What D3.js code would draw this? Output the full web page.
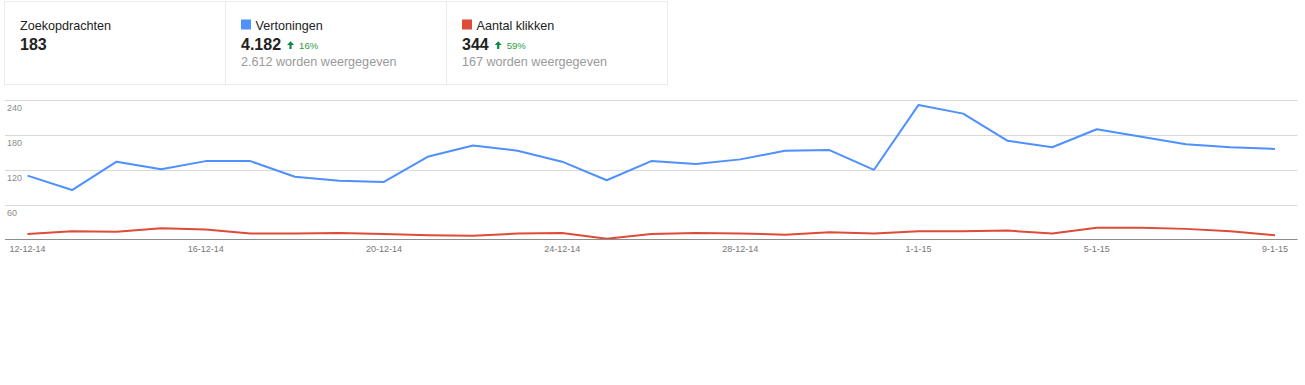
<!DOCTYPE html>
<html>
<head>
<meta charset="utf-8">
<script src="https://cdn.jsdelivr.net/npm/d3@7"></script>
<style>
  body { margin: 0; background: #fff; }
  svg text { font-family: Arial, "Liberation Sans", sans-serif; }
</style>
</head>
<body>
<div id="graph-container"></div>
<script>
const dates = [
  '2014-12-12', '2014-12-13', '2014-12-14', '2014-12-15', '2014-12-16', '2014-12-17',
  '2014-12-18', '2014-12-19', '2014-12-20', '2014-12-21', '2014-12-22', '2014-12-23',
  '2014-12-24', '2014-12-25', '2014-12-26', '2014-12-27', '2014-12-28', '2014-12-29',
  '2014-12-30', '2014-12-31', '2015-01-01', '2015-01-02', '2015-01-03', '2015-01-04',
  '2015-01-05', '2015-01-06', '2015-01-07', '2015-01-08', '2015-01-09'
];
const vertoningen = [
  110, 85, 134, 121, 135, 135, 108, 101, 99, 143, 162, 153, 134, 102, 135,
  130, 138, 153, 154, 120, 232, 217, 170, 159, 190, 177, 164, 159, 156
];
const klikken = [
  9, 14, 13, 19, 17, 10, 10, 11, 9, 7, 6, 10, 11, 1, 9,
  11, 10, 8, 12, 10, 14, 14, 15, 10, 20, 20, 18, 14, 7
];
const yTicks = [60, 120, 180, 240];
const xTickDates = ['2014-12-12', '2014-12-16', '2014-12-20', '2014-12-24', '2014-12-28', '2015-01-01', '2015-01-05', '2015-01-09'];
const xTickLabels = ['12-12-14', '16-12-14', '20-12-14', '24-12-14', '28-12-14', '1-1-15', '5-1-15', '9-1-15'];

const scorecards = [
  { title: 'Zoekopdrachten', value: '183', change: null, sub: null, color: null },
  { title: 'Vertoningen', value: '4.182', change: '16%', sub: '2.612 worden weergegeven', color: '#4d90fe' },
  { title: 'Aantal klikken', value: '344', change: '59%', sub: '167 worden weergegeven', color: '#dd4b39' }
];

const W = 1305, H = 385;
const parse = d3.utcParse('%Y-%m-%d');

const svg = d3.select('#graph-container')
              .append('svg')
              .attr('width', W)
              .attr('height', H);

// scorecards on top
const cardX = [4, 225, 446], cardW = 221;
svg.append('rect')
   .attr('x', 4.5).attr('y', 1.5)
   .attr('width', 663).attr('height', 83)
   .attr('fill', 'none')
   .attr('stroke', '#ebebeb');

scorecards.forEach(function(c, i) {
  let g = svg.append('g').attr('transform', 'translate(' + cardX[i] + ',0)');
  if (i > 0) {
    g.append('line')
     .attr('x1', 0.5).attr('x2', 0.5)
     .attr('y1', 1).attr('y2', 84)
     .attr('stroke', '#ebebeb');
  }
  let tx = i === 0 ? 16 : 16;
  if (c.color) {
    g.append('rect')
     .attr('x', tx).attr('y', 19.5)
     .attr('width', 10).attr('height', 10)
     .attr('fill', c.color);
  }
  g.append('text')
   .attr('x', c.color ? tx + 14.5 : tx)
   .attr('y', 29.5)
   .attr('font-size', 12.6)
   .attr('fill', '#222')
   .text(c.title);
  let val = g.append('text')
             .attr('x', tx)
             .attr('y', 49.5)
             .attr('font-size', 16)
             .attr('font-weight', 'bold')
             .attr('fill', '#222')
             .text(c.value);
  if (c.change) {
    let vw = val.node().getComputedTextLength();
    let ax = tx + vw + 6;
    g.append('path')
     .attr('d', 'M' + ax + ',45 L' + (ax + 3.5) + ',41.2 L' + (ax + 7) + ',45 L' + (ax + 4.6) + ',45 L' + (ax + 4.6) + ',49 L' + (ax + 2.4) + ',49 L' + (ax + 2.4) + ',45 Z')
     .attr('fill', '#0b8a43');
    g.append('text')
     .attr('x', ax + 12)
     .attr('y', 49)
     .attr('font-size', 9.6)
     .attr('fill', '#2c9a3c')
     .text(c.change);
    g.append('text')
     .attr('x', tx)
     .attr('y', 65.5)
     .attr('font-size', 12.6)
     .attr('fill', '#9a9a9a')
     .text(c.sub);
  }
});

// chart
const x = d3.scaleUtc()
            .domain([parse(dates[0]), parse(dates[dates.length - 1])])
            .range([27.5, 1275]);
const y = d3.scaleLinear()
            .domain([0, 240])
            .range([239.3, 100.3]);
const gridLeft = 5, gridRight = 1297.5;

svg.append('g')
   .selectAll('line')
   .data(yTicks)
   .enter()
   .append('line')
   .attr('x1', gridLeft).attr('x2', gridRight)
   .attr('y1', d => Math.round(y(d)) + 0.5)
   .attr('y2', d => Math.round(y(d)) + 0.5)
   .attr('stroke', '#d9d9d9');

svg.append('g')
   .selectAll('text')
   .data(yTicks)
   .enter()
   .append('text')
   .attr('x', 7)
   .attr('y', d => Math.round(y(d)) + 11)
   .attr('font-size', 9)
   .attr('fill', '#8a8a8a')
   .text(d => d);

const line = d3.line()
               .x((d, i) => x(parse(dates[i])))
               .y(d => y(d));

svg.append('path')
   .datum(klikken)
   .attr('d', line)
   .attr('fill', 'none')
   .attr('stroke', '#dd4b39')
   .attr('stroke-width', 2)
   .attr('stroke-linejoin', 'round');

svg.append('path')
   .datum(vertoningen)
   .attr('d', line)
   .attr('fill', 'none')
   .attr('stroke', '#4d90fe')
   .attr('stroke-width', 2)
   .attr('stroke-linejoin', 'round');

// x-axis baseline
svg.append('line')
   .attr('x1', gridLeft).attr('x2', gridRight)
   .attr('y1', Math.round(y(0)) + 0.5)
   .attr('y2', Math.round(y(0)) + 0.5)
   .attr('stroke', '#8c8c8c');

svg.append('g')
   .selectAll('text')
   .data(xTickDates)
   .enter()
   .append('text')
   .attr('x', d => x(parse(d)))
   .attr('y', 252)
   .attr('text-anchor', 'middle')
   .attr('font-size', 9)
   .attr('fill', '#777')
   .text((d, i) => xTickLabels[i]);
</script>
</body>
</html>
